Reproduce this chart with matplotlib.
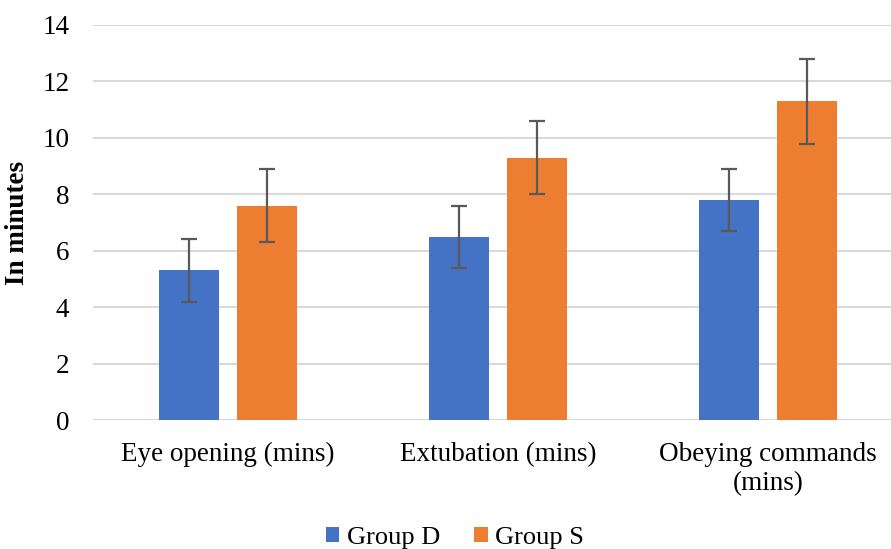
import numpy as np
import matplotlib
matplotlib.use("Agg")
import matplotlib.pyplot as plt

categories = ["Eye opening (mins)", "Extubation (mins)", "Obeying commands\n(mins)"]
group_d = [5.3, 6.5, 7.8]
group_d_err = [1.1, 1.1, 1.1]
group_s = [7.6, 9.3, 11.3]
group_s_err = [1.3, 1.3, 1.5]

plt.rcParams['font.family'] = ['Liberation Serif', 'DejaVu Serif']

fig = plt.figure(figsize=(8.91, 5.49), dpi=100)
ax = fig.add_axes([93 / 891, 129 / 549, 798 / 891, 395 / 549])

x = np.arange(len(categories))
w = 0.222
off = 0.143
err_kw = dict(ecolor='#595959', elinewidth=1.6, capsize=5.5, capthick=1.6)
ax.bar(x - off, group_d, w, yerr=group_d_err, color='#4472C4', label='Group D', error_kw=err_kw, zorder=2)
ax.bar(x + off, group_s, w, yerr=group_s_err, color='#ED7D31', label='Group S', error_kw=err_kw, zorder=2)

ax.set_xlim(-0.5, -0.5 + 798 / 270)
ax.set_ylim(0, 14)
ax.set_yticks(range(0, 15, 2))
ax.set_xticks(x)
ax.set_xticklabels(categories, fontsize=19.5, linespacing=1.18)
ax.tick_params(axis='y', labelsize=19.5, length=0, pad=17)
ax.tick_params(axis='x', length=0, pad=16)
ax.yaxis.grid(True, color='#D9D9D9', linewidth=1.5, zorder=0)
ax.set_axisbelow(True)
for s in ax.spines.values():
    s.set_visible(False)
ax.set_ylabel("In minutes", fontsize=19.5, fontweight='bold', labelpad=9)

ax.legend(loc='center', bbox_to_anchor=(455 / 891, 11 / 549), bbox_transform=fig.transFigure,
          ncol=2, frameon=False, fontsize=19, handlelength=0.5, handleheight=0.5,
          handletextpad=0.3, columnspacing=1.3, borderpad=0)

fig.savefig("out.png", dpi=100)
